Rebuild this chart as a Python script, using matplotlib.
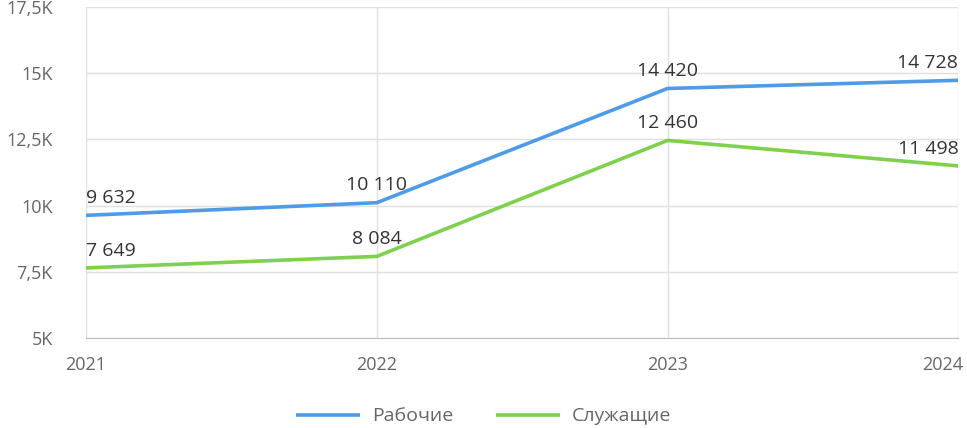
import matplotlib.pyplot as plt
import matplotlib.transforms as mtransforms
from matplotlib.ticker import FuncFormatter

plt.rcParams['font.family'] = ['Open Sans', 'DejaVu Sans']

anos = [2021, 2022, 2023, 2024]
rabochie = [9632, 10110, 14420, 14728]
sluzhashchie = [7649, 8084, 12460, 11498]
nomes = ['Рабочие', 'Служащие']
cores = ['#4f9be6', '#7fd04f']


def fmt_k(v, pos=None):
    txt = f"{v / 1000:g}K"
    return txt.replace('.', ',')


def fmt_num(v):
    return f"{v:,}".replace(',', ' ')


fig = plt.figure(figsize=(9.67, 4.28), dpi=100)
ax = fig.add_axes([0.089, 0.21, 0.902, 0.774])

for serie, nome, cor in [(rabochie, nomes[0], cores[0]), (sluzhashchie, nomes[1], cores[1])]:
    ax.plot(anos, serie, color=cor, linewidth=2.6, label=nome, solid_capstyle='butt', zorder=3)
    for i, (x, y) in enumerate(zip(anos, serie)):
        ha = 'left' if i == 0 else ('right' if i == len(anos) - 1 else 'center')
        ax.annotate(fmt_num(y), (x, y), xytext=(0, 6), textcoords='offset points',
                    ha=ha, va='bottom', fontsize=14, color='#333333', zorder=4)

ax.set_xlim(anos[0], anos[-1])
ax.set_ylim(5000, 17500)
ax.set_xticks(anos)
ax.set_yticks([5000, 7500, 10000, 12500, 15000, 17500])
ax.yaxis.set_major_formatter(FuncFormatter(fmt_k))
ax.grid(True, color='#e0e0e0', linewidth=1)
ax.set_axisbelow(True)
for s in ['top', 'right', 'left']:
    ax.spines[s].set_visible(False)
ax.spines['bottom'].set_color('#bdbdbd')
ax.tick_params(axis='both', length=0, labelsize=13, colors='#666666')
ax.tick_params(axis='y', pad=24)
ax.tick_params(axis='x', pad=13)

# o último rótulo do eixo x fica alinhado à direita para não ser cortado
fig.canvas.draw()
ultimo = ax.xaxis.get_majorticklabels()[-1]
ultimo.set_ha('right')
ultimo.set_transform(ultimo.get_transform() + mtransforms.ScaledTranslation(0.05, 0, fig.dpi_scale_trans))

fig.legend(loc='lower center', ncol=2, frameon=False, fontsize=14, bbox_to_anchor=(0.5, -0.035),
           handlelength=3.3, handletextpad=0.6, columnspacing=2.2, labelcolor='#666666')

plt.savefig('out.png', dpi=100)
plt.close()
